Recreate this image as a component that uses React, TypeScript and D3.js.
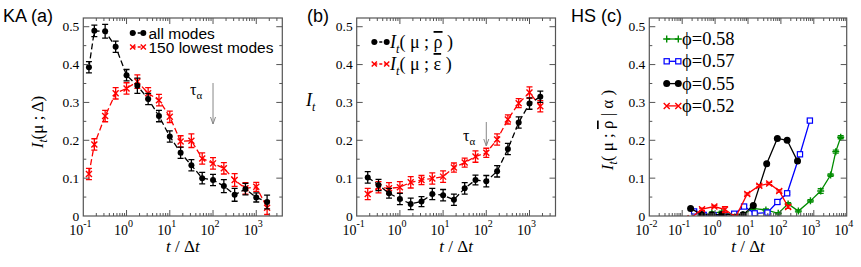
import React from "react";
import * as d3 from "d3";

// panel (a): KA, all modes vs 150 lowest modes
const tA = [0.135, 0.18, 0.32, 0.56, 1, 1.78, 3.16, 5.62, 10, 17.8, 31.6, 56.2, 100, 178, 316, 562, 1000, 1780];
const allModes = [0.393, 0.489, 0.488, 0.447, 0.372, 0.344, 0.309, 0.264, 0.21, 0.167, 0.134, 0.1, 0.095, 0.079, 0.056, 0.071, 0.049, 0.037];
const allModesErr = [0.015, 0.015, 0.018, 0.015, 0.015, 0.02, 0.015, 0.015, 0.015, 0.015, 0.015, 0.015, 0.015, 0.017, 0.017, 0.015, 0.012, 0.018];
const lowModes = [0.111, 0.189, 0.264, 0.324, 0.337, 0.355, 0.324, 0.306, 0.262, 0.197, 0.199, 0.152, 0.139, 0.126, 0.095, 0.073, 0.077, 0.022];
const lowModesErr = [0.015, 0.015, 0.015, 0.015, 0.015, 0.018, 0.015, 0.015, 0.015, 0.015, 0.018, 0.015, 0.015, 0.015, 0.017, 0.015, 0.012, 0.018];

// panel (b): I_t(mu; rho) and I_t(mu; eps)
const tB = [0.18, 0.32, 0.56, 1, 1.78, 3.16, 5.62, 10, 17.8, 31.6, 56.2, 100, 178, 316, 562, 1000, 1780];
const rhoB = [0.102, 0.082, 0.06, 0.045, 0.032, 0.038, 0.058, 0.055, 0.043, 0.073, 0.095, 0.092, 0.118, 0.177, 0.247, 0.297, 0.315];
const rhoBErr = [0.015, 0.015, 0.013, 0.015, 0.015, 0.013, 0.015, 0.015, 0.015, 0.015, 0.013, 0.015, 0.015, 0.015, 0.015, 0.015, 0.015];
const epsB = [0.058, 0.076, 0.073, 0.076, 0.089, 0.095, 0.099, 0.104, 0.128, 0.141, 0.157, 0.167, 0.202, 0.255, 0.298, 0.326, 0.29];
const epsBErr = [0.015, 0.015, 0.015, 0.015, 0.015, 0.012, 0.015, 0.015, 0.012, 0.012, 0.015, 0.012, 0.015, 0.012, 0.012, 0.015, 0.015];

// panel (c): HS at several packing fractions
const phiLabels = ["ϕ=0.58", "ϕ=0.57", "ϕ=0.55", "ϕ=0.52"];
const tG = [0.8, 1.6, 3.5, 7, 14, 35, 83, 166, 340, 790, 1620, 3240, 4650, 6570];
const vG = [0.008, 0.01, 0.003, 0.004, 0.02, 0.016, 0.007, 0.032, 0.013, 0.04, 0.066, 0.108, 0.17, 0.208];
const eG = [0.003, 0.003, 0.002, 0.002, 0.003, 0.003, 0.002, 0.003, 0.003, 0.003, 0.006, 0.003, 0.004, 0.004];
const tBl = [0.23, 0.45, 0.9, 1.8, 3.8, 7.6, 16, 39, 78, 155, 380, 760];
const vBl = [0.012, 0.003, 0.002, 0.003, 0.006, 0.025, 0.007, 0.009, 0.037, 0.06, 0.163, 0.252];
const eBl = [0.003, 0.002, 0.002, 0.002, 0.002, 0.003, 0.002, 0.002, 0.006, 0.003, 0.003, 0.003];
const tK = [0.18, 0.39, 0.8, 1.6, 7, 14.5, 37, 78, 155, 320];
const vK = [0.02, 0.004, 0.003, 0.004, 0.003, 0.028, 0.138, 0.205, 0.2, 0.145];
const tR = [0.18, 0.4, 0.95, 2.0, 4.2, 9.5, 22, 44, 89, 166];
const vR = [-0.006, 0.018, 0.025, 0.017, -0.003, 0.058, 0.08, 0.086, 0.066, 0.024];
const eR = [0.002, 0.003, 0.003, 0.008, 0.002, 0.003, 0.003, 0.003, 0.003, 0.004];

const yTicks = [0, 0.1, 0.2, 0.3, 0.4, 0.5];

const TOP = 18;
const BOTTOM = 216;
const SERIF = "'Liberation Serif', 'Times New Roman', Times, 'DejaVu Serif', serif";
const SANS = "'Liberation Sans', Arial, sans-serif";
const RED = "#ff0000";
const GREEN = "#008c00";
const BLUE = "#0000ff";
const FRAME = "#555";

const y = d3.scaleLinear().domain([0, 0.523]).range([BOTTOM, TOP]);

type Marker = "circle" | "cross" | "plus" | "square";

function Mark({ kind, x, yy, color, size = 3 }: { kind: Marker; x: number; yy: number; color: string; size?: number }) {
  if (kind === "circle") return <circle cx={x} cy={yy} r={size} fill={color} />;
  if (kind === "square")
    return <rect x={x - 2.6} y={yy - 2.6} width={5.2} height={5.2} fill="white" stroke={color} strokeWidth={1.2} />;
  const s = size;
  const d =
    kind === "cross"
      ? `M${x - s},${yy - s}L${x + s},${yy + s}M${x - s},${yy + s}L${x + s},${yy - s}`
      : `M${x - s - 0.5},${yy}H${x + s + 0.5}M${x},${yy - s - 0.5}V${yy + s + 0.5}`;
  return <path d={d} stroke={color} strokeWidth={1.4} fill="none" />;
}

function Series({ x, ts, vs, es, color, kind, dashed, size }: {
  x: d3.ScaleLogarithmic<number, number>; ts: number[]; vs: number[]; es?: number[];
  color: string; kind: Marker; dashed: boolean; size?: number;
}) {
  const pts = ts.map((t, i) => [x(t), y(vs[i])] as [number, number]);
  const line = d3.line()(pts) || "";
  return (
    <g>
      <path d={line} fill="none" stroke={color} strokeWidth={1.3} strokeDasharray={dashed ? "6,3" : undefined} />
      {es && ts.map((t, i) => {
        const px = x(t);
        const y1 = y(vs[i] - es[i]);
        const y2 = y(vs[i] + es[i]);
        return (
          <path key={"e" + i} d={`M${px},${y1}V${y2}M${px - 3},${y1}H${px + 3}M${px - 3},${y2}H${px + 3}`}
            stroke={color} strokeWidth={1.3} fill="none" />
        );
      })}
      {pts.map((p, i) => <Mark key={i} kind={kind} x={p[0]} yy={p[1]} color={color} size={size} />)}
    </g>
  );
}

function Frame({ x, id, children }: { x: d3.ScaleLogarithmic<number, number>; id: string; children?: React.ReactNode }) {
  const [x0, x1] = x.range();
  const ticks = x.ticks();
  const yMinor = d3.range(0, 0.52, 0.05);
  const isMajor = (t: number) => Math.abs(Math.log10(t) - Math.round(Math.log10(t))) < 1e-6;
  return (
    <g>
      <clipPath id={id}><rect x={x0} y={TOP} width={x1 - x0} height={BOTTOM - TOP} /></clipPath>
      <g clipPath={`url(#${id})`}>{children}</g>
      <rect x={x0} y={TOP} width={x1 - x0} height={BOTTOM - TOP} fill="none" stroke={FRAME} strokeWidth={1.2} />
      {ticks.map((t, i) => {
        const len = isMajor(t) ? 6 : 3;
        const px = x(t);
        if (px <= x0 + 0.5 || px >= x1 - 0.5) return null;
        return <path key={i} d={`M${px},${BOTTOM}V${BOTTOM - len}M${px},${TOP}V${TOP + len}`} stroke={FRAME} strokeWidth={1} />;
      })}
      {yMinor.map((v, i) => {
        const len = i % 2 === 0 ? 6 : 3;
        const py = y(v);
        if (v === 0) return null;
        return <path key={"y" + i} d={`M${x0},${py}H${x0 + len}M${x1},${py}H${x1 - len}`} stroke={FRAME} strokeWidth={1} />;
      })}
      {yTicks.map((v) => (
        <text key={"l" + v} x={x0 - 4} y={y(v) + 4.5} textAnchor="end" fontFamily={SERIF} fontSize={13.5}>
          {v === 0 ? "0" : v.toFixed(1)}
        </text>
      ))}
      {ticks.filter(isMajor).map((t) => (
        <text key={"x" + t} x={x(t) - 3} y={235} textAnchor="middle" fontFamily={SERIF} fontSize={14}>
          10<tspan dy={-8} fontSize={10}>{Math.round(Math.log10(t))}</tspan>
        </text>
      ))}
      <text x={(x0 + x1) / 2} y={252} textAnchor="middle" fontFamily={SERIF} fontSize={17}>
        <tspan fontStyle="italic">t</tspan> / Δ<tspan fontStyle="italic">t</tspan>
      </text>
    </g>
  );
}

function TauArrow({ px, yTop, yBot, tx, ty }: { px: number; yTop: number; yBot: number; tx: number; ty: number }) {
  return (
    <g>
      <path d={`M${px},${yTop}V${yBot}M${px - 2.5},${yBot - 7}L${px},${yBot}L${px + 2.5},${yBot - 7}`} stroke="#888" strokeWidth={1} fill="none" />
      <text x={tx} y={ty} fontFamily={SERIF} fontSize={16}>
        τ<tspan dy={4} fontSize={11}>α</tspan>
      </text>
    </g>
  );
}

// "I_t( μ ; X )" with an overline on the barred symbol
function ItLabel({ bar, rest, size }: { bar?: string; rest: [string, string]; size: number }) {
  return (
    <>
      <tspan fontStyle="italic">I</tspan>
      <tspan dy={size * 0.25} fontSize={size * 0.68} fontStyle="italic">t</tspan>
      <tspan dy={-size * 0.25}>{rest[0]}</tspan>
      {bar && <tspan style={{ textDecoration: "overline" }}>{bar}</tspan>}
      <tspan>{rest[1]}</tspan>
    </>
  );
}

export default function App() {
  const xa = d3.scaleLog().domain([0.1, 4000]).range([83.3, 282.3]);
  const xb = d3.scaleLog().domain([0.1, 4000]).range([356.7, 555.5]);
  const xc = d3.scaleLog().domain([0.01, 10000]).range([649.3, 846.7]);

  return (
    <svg width={861} height={267} style={{ position: "absolute", left: 0, top: 0, background: "white" }}>
      {/* (a) */}
      <Frame x={xa} id="ca">
        <Series x={xa} ts={tA} vs={lowModes} es={lowModesErr} color={RED} kind="cross" dashed />
        <Series x={xa} ts={tA} vs={allModes} es={allModesErr} color="black" kind="circle" dashed />
      </Frame>
      <text x={3} y={22} fontFamily={SANS} fontSize={18}>KA (a)</text>
      <text transform="translate(43,122) rotate(-90)" textAnchor="middle" fontFamily={SERIF} fontSize={17}>
        <ItLabel rest={["(μ ; Δ)", ""]} size={17} />
      </text>
      <g>
        <path d="M132.7,33H143.3" stroke="black" strokeWidth={1.3} strokeDasharray="3,2" />
        <Mark kind="circle" x={132.7} yy={33} color="black" />
        <Mark kind="circle" x={143.3} yy={33} color="black" />
        <text x={148.5} y={38.5} fontFamily={SANS} fontSize={15.5}>all modes</text>
        <path d="M132.7,47H143.3" stroke={RED} strokeWidth={1.3} strokeDasharray="3,2" />
        <Mark kind="cross" x={132.7} yy={47} color={RED} size={2.6} />
        <Mark kind="cross" x={143.3} yy={47} color={RED} size={2.6} />
        <text x={148.5} y={52.5} fontFamily={SANS} fontSize={15.5}>150 lowest modes</text>
      </g>
      <TauArrow px={xa(100)} yTop={83} yBot={124} tx={190} ty={95} />

      {/* (b) */}
      <Frame x={xb} id="cb">
        <Series x={xb} ts={tB} vs={epsB} es={epsBErr} color={RED} kind="cross" dashed />
        <Series x={xb} ts={tB} vs={rhoB} es={rhoBErr} color="black" kind="circle" dashed />
      </Frame>
      <text x={307} y={22} fontFamily={SANS} fontSize={18}>(b)</text>
      <text x={306} y={106} fontFamily={SERIF} fontSize={18}>
        <tspan fontStyle="italic">I</tspan><tspan dy={5} fontSize={12} fontStyle="italic">t</tspan>
      </text>
      <g>
        <path d="M374.3,42H386.7" stroke="black" strokeWidth={1.3} strokeDasharray="3,2" />
        <Mark kind="circle" x={374.3} yy={42} color="black" />
        <Mark kind="circle" x={386.7} yy={42} color="black" />
        <text x={390} y={48} fontFamily={SERIF} fontSize={18}>
          <ItLabel rest={["( μ ; ", " )"]} bar="ρ" size={18} />
        </text>
        <path d="M374.3,64H386.7" stroke={RED} strokeWidth={1.3} strokeDasharray="3,2" />
        <Mark kind="cross" x={374.3} yy={64} color={RED} size={2.6} />
        <Mark kind="cross" x={386.7} yy={64} color={RED} size={2.6} />
        <text x={390} y={70} fontFamily={SERIF} fontSize={18}>
          <ItLabel rest={["( μ ; ", " )"]} bar="ε" size={18} />
        </text>
      </g>
      <TauArrow px={xb(100)} yTop={122} yBot={146} tx={463} ty={141} />

      {/* (c) */}
      <Frame x={xc} id="cc">
        <Series x={xc} ts={tG} vs={vG} es={eG} color={GREEN} kind="plus" dashed={false} />
        <Series x={xc} ts={tBl} vs={vBl} es={eBl} color={BLUE} kind="square" dashed={false} />
        <Series x={xc} ts={tK} vs={vK} color="black" kind="circle" dashed={false} size={3.5} />
        <Series x={xc} ts={tR} vs={vR} es={eR} color={RED} kind="cross" dashed={false} />
      </Frame>
      <text x={571} y={22} fontFamily={SANS} fontSize={18}>HS (c)</text>
      <text transform="translate(613,130) rotate(-90)" textAnchor="middle" fontFamily={SERIF} fontSize={17}>
        <ItLabel rest={["( μ ; ", " | α )"]} bar="ρ" size={17} />
      </text>
      <g>
        {[GREEN, BLUE, "black", RED].map((c, i) => {
          const ly = 39 + i * 22.3;
          const kinds: Marker[] = ["plus", "square", "circle", "cross"];
          return (
            <g key={c}>
              <path d={`M666.7,${ly}H678.3`} stroke={c} strokeWidth={1.3} />
              <Mark kind={kinds[i]} x={666.7} yy={ly} color={c} size={kinds[i] === "circle" ? 3.5 : 3} />
              <Mark kind={kinds[i]} x={678.3} yy={ly} color={c} size={kinds[i] === "circle" ? 3.5 : 3} />
              <text x={682} y={ly + 6} fontFamily={SERIF} fontSize={18.5}>{phiLabels[i]}</text>
            </g>
          );
        })}
      </g>
    </svg>
  );
}
